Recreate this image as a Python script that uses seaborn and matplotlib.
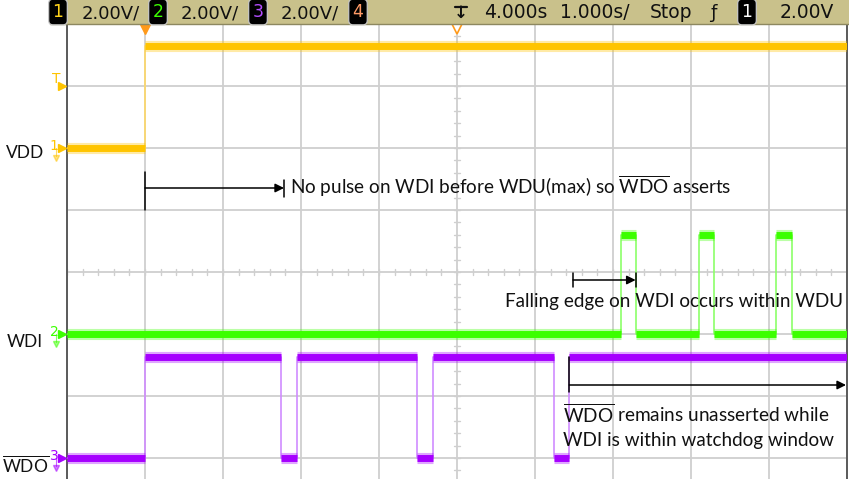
import matplotlib
matplotlib.use("Agg")
import matplotlib.pyplot as plt
import seaborn as sns
import pandas as pd
from matplotlib import transforms as mtrans
from matplotlib import font_manager as fm
from matplotlib.patches import Rectangle

# ---------------- data (time in s, trigger at 0; voltages in V) ----------------
time_vdd = [-1.0, 0.0, 0.0, 9.0]
volt_vdd = [0.0, 0.0, 3.3, 3.3]

time_wdi = [-1.0, 6.10, 6.10, 6.29, 6.29, 7.10, 7.10, 7.29, 7.29, 8.09, 8.09, 8.29, 8.29, 9.0]
volt_wdi = [0.0, 0.0, 3.2, 3.2, 0.0, 0.0, 3.2, 3.2, 0.0, 0.0, 3.2, 3.2, 0.0, 0.0]

time_wdo = [-1.0, 0.0, 0.0, 1.74, 1.74, 1.95, 1.95, 3.49, 3.49, 3.69, 3.69, 5.24, 5.24, 5.44, 5.44, 9.0]
volt_wdo = [0.0, 0.0, 3.25, 3.25, 0.0, 0.0, 3.25, 3.25, 0.0, 0.0, 3.25, 3.25, 0.0, 0.0, 3.25, 3.25]

channel_names = ["VDD", "WDI", "WDO"]
channel_offsets = [6.0, 3.0, 1.0]          # ground marker position (divisions)
volts_per_div = [2.0, 2.0, 2.0]
trigger_level = 2.0
header_scales = ["2.00V/", "2.00V/", "2.00V/"]
header_right = ["4.000s", "1.000s/", "Stop", "2.00V"]

ann1 = "No pulse on WDI before WDU(max) so $\\overline{\\mathrm{WDO}}$ asserts"
ann2 = "Falling edge on WDI occurs within WDU"
ann3 = ["$\\overline{\\mathrm{WDO}}$ remains unasserted while", "WDI is within watchdog window"]

# ---------------- style ----------------
sns.set_theme(style="white")
plt.rcParams["font.family"] = ["Lato", "DejaVu Sans"]
plt.rcParams["mathtext.fontset"] = "custom"
plt.rcParams["mathtext.rm"] = "Lato"
plt.rcParams["mathtext.it"] = "Lato:italic"
plt.rcParams["mathtext.bf"] = "Lato:bold"

def has_font(name):
    try:
        fm.findfont(fm.FontProperties(family=name), fallback_to_default=False)
        return True
    except Exception:
        return False

scope_font = "Liberation Sans Narrow" if has_font("Liberation Sans Narrow") else "DejaVu Sans"

W, H = 849, 479
fig = plt.figure(figsize=(W / 100, H / 100), dpi=100)
fig.patch.set_facecolor("white")

def fx(px):
    return px / W

def fy(py):
    return 1 - py / H

# axes: plot area from x=67..847 px, y=24..479 px ; 62 px per division, full screen 8 div
ax = fig.add_axes([fx(67), 0, (847 - 67) / W, (479 - 24) / H])
ax.set_xlim(-1, 9)
ax.set_ylim((520 - 479) / 62, 8)
ax.set_facecolor("white")
ax.set_xticks([])
ax.set_yticks([])
for s in ["top", "bottom"]:
    ax.spines[s].set_visible(False)
for s in ["left", "right"]:
    ax.spines[s].set_color("#5a5a5a")
    ax.spines[s].set_linewidth(1.4)

grid_c = "#cfcfcf"
for k in range(0, 11):
    ax.axvline(-1 + k, color=grid_c, lw=1.3, zorder=0)
for k in range(1, 8):
    ax.axhline(k, color=grid_c, lw=1.3, zorder=0)
# minor ticks on center lines
for k in range(0, 51):
    xx = -1 + k * 0.2
    ax.plot([xx, xx], [4 - 0.05, 4 + 0.05], color=grid_c, lw=1.0, zorder=0)
for k in range(4, 41):
    yy = k * 0.2
    ax.plot([4 - 0.04, 4 + 0.04], [yy, yy], color=grid_c, lw=1.0, zorder=0)

# ---------------- traces ----------------
traces = [
    (time_vdd, volt_vdd, "#ffc400", "#ffd966"),
    (time_wdi, volt_wdi, "#3cff00", "#8cff6a"),
    (time_wdo, volt_wdo, "#a600ff", "#d08cff"),
]
for (tt, vv, col, light), off, vpd in zip(traces, channel_offsets, volts_per_div):
    df = pd.DataFrame({"t": tt, "y": [off + v / vpd for v in vv]})
    sns.lineplot(data=df, x="t", y="y", estimator=None, sort=False,
                 color=light, lw=1.2, ax=ax, zorder=3)
    for i in range(len(tt) - 1):
        if vv[i] == vv[i + 1] and tt[i + 1] > tt[i]:
            yv = off + vv[i] / vpd
            ax.plot([tt[i], tt[i + 1]], [yv, yv], color=col, lw=8.0, alpha=0.35,
                    solid_capstyle="butt", zorder=4)
            ax.plot([tt[i], tt[i + 1]], [yv, yv], color=col, lw=5.0,
                    solid_capstyle="butt", zorder=5)
ax.set_xlabel("")
ax.set_ylabel("")

# ---------------- channel markers on left ----------------
blend = mtrans.blended_transform_factory(ax.transAxes, ax.transData)
marker_cols = ["#ffc400", "#3cff00", "#a600ff"]
for num, off, col in zip(["1", "2", "3"], channel_offsets, marker_cols):
    ax.plot([-0.006], [off], marker=">", ms=5.5, color=col, transform=blend, clip_on=False, zorder=6)
    ax.text(-0.011, off + 0.03, num, color=col, fontsize=10, ha="right", va="center",
            transform=blend, family="DejaVu Sans", clip_on=False)
    ax.plot([-0.014, -0.014], [off, off - 0.13], color=col, lw=0.8, transform=blend, clip_on=False, alpha=0.6)
    ax.plot([-0.014], [off - 0.16], marker="v", ms=4, color=col, alpha=0.5, transform=blend, clip_on=False)
trig_y = channel_offsets[0] + trigger_level / volts_per_div[0]
ax.plot([-0.006], [trig_y], marker=">", ms=5.5, color="#ffc400", transform=blend, clip_on=False, zorder=6)
ax.text(-0.008, trig_y + 0.12, "T", color="#ffc400", fontsize=10, ha="right", va="center",
        transform=blend, family="DejaVu Sans", clip_on=False)

# trigger position marker and delay marker at top
topblend = mtrans.blended_transform_factory(ax.transData, ax.transAxes)
ax.plot([0], [0.99], marker="v", ms=7, color="#ff9a1a", transform=topblend, clip_on=False, zorder=7)
ax.plot([4], [0.99], marker="v", ms=7, mfc="white", mec="#ff9a1a", mew=1.2,
        transform=topblend, clip_on=False, zorder=7)

# ---------------- left labels ----------------
fig.text(fx(6), fy(158), channel_names[0], fontsize=12.5, color="#111111", ha="left", va="baseline")
fig.text(fx(7), fy(347), channel_names[1], fontsize=12.5, color="#111111", ha="left", va="baseline")
fig.text(fx(2), fy(472), "$\\overline{\\mathrm{" + channel_names[2] + "}}$", fontsize=12.5,
         color="#111111", ha="left", va="baseline")

# ---------------- annotations ----------------
def yd(py):
    return (520 - py) / 62

def xd(px):
    return (px - 67) / 78 - 1

arr = dict(arrowstyle="-|>", color="black", lw=1.1, mutation_scale=13, shrinkA=0, shrinkB=0)
# arrow 1
ax.plot([0, 0], [yd(172), yd(210)], color="black", lw=1.1, zorder=8)
ax.annotate("", xy=(xd(284), yd(188)), xytext=(0, yd(188)), arrowprops=arr, zorder=8)
ax.plot([xd(284), xd(284)], [yd(180), yd(197)], color="black", lw=1.1, zorder=8)
ax.text(xd(290), yd(194), ann1, fontsize=13.6, color="#111111", ha="left", va="baseline", zorder=9)
# arrow 2
ax.plot([xd(573), xd(573)], [yd(273), yd(287)], color="black", lw=1.1, zorder=8)
ax.annotate("", xy=(6.29, yd(280)), xytext=(xd(573), yd(280)), arrowprops=arr, zorder=8)
ax.plot([6.29, 6.29], [yd(273), yd(287)], color="black", lw=1.1, zorder=8)
ax.text(xd(843), yd(307), ann2, fontsize=13.6, color="#111111", ha="right", va="baseline", zorder=9)
# arrow 3
ax.plot([5.44, 5.44], [yd(357), yd(392)], color="black", lw=1.1, zorder=8)
ax.annotate("", xy=(xd(846), yd(385)), xytext=(5.44, yd(385)), arrowprops=arr, zorder=8,
            annotation_clip=False)
ax.text(xd(563), yd(423), ann3[0], fontsize=13.7, color="#111111", ha="left", va="baseline", zorder=9)
ax.text(xd(563), yd(446), ann3[1], fontsize=13.6, color="#111111", ha="left", va="baseline", zorder=9)

# ---------------- header bar ----------------
fig.patches.append(Rectangle((fx(50), fy(24)), 1 - fx(50), 24 / H, transform=fig.transFigure,
                             facecolor="#c9c18b", edgecolor="none", zorder=0))
fig.lines.append(plt.Line2D([fx(50), 1], [fy(24), fy(24)], transform=fig.transFigure,
                            color="#8d8860", lw=1.0))

def box(px, py, txt, col):
    fig.text(fx(px), fy(py), txt, fontsize=12.5, color=col, ha="center", va="center",
             family=scope_font,
             bbox=dict(boxstyle="round,pad=0.22,rounding_size=0.25", fc="black", ec="#c8c8c8", lw=0.9))

hb = 18.5  # header baseline px
box(58, 12, "1", "#ffd21a")
box(158, 12, "2", "#3cff00")
box(258, 12, "3", "#b44dff")
box(358, 12, "4", "#ff9a66")
for px, s in zip([82, 181, 281], header_scales):
    fig.text(fx(px), fy(hb), s, fontsize=13, color="#111111", ha="left", va="baseline", family=scope_font)
fig.text(fx(461), fy(13), "\u2193", fontsize=12, color="#111111", ha="center", va="center",
         family="DejaVu Sans", fontweight="bold")
fig.lines.append(plt.Line2D([fx(455), fx(467)], [fy(7), fy(7)], transform=fig.transFigure,
                            color="#111111", lw=1.6))
for px, s in zip([484, 560, 650, 780], header_right):
    fig.text(fx(px), fy(hb), s, fontsize=13.5, color="#111111", ha="left", va="baseline", family=scope_font)
fig.text(fx(713), fy(13), "\u0192", fontsize=13, color="#111111", ha="center", va="center",
         family="DejaVu Sans")
box(747, 12, "1", "white")

fig.savefig("out.png", dpi=100, facecolor="white")
